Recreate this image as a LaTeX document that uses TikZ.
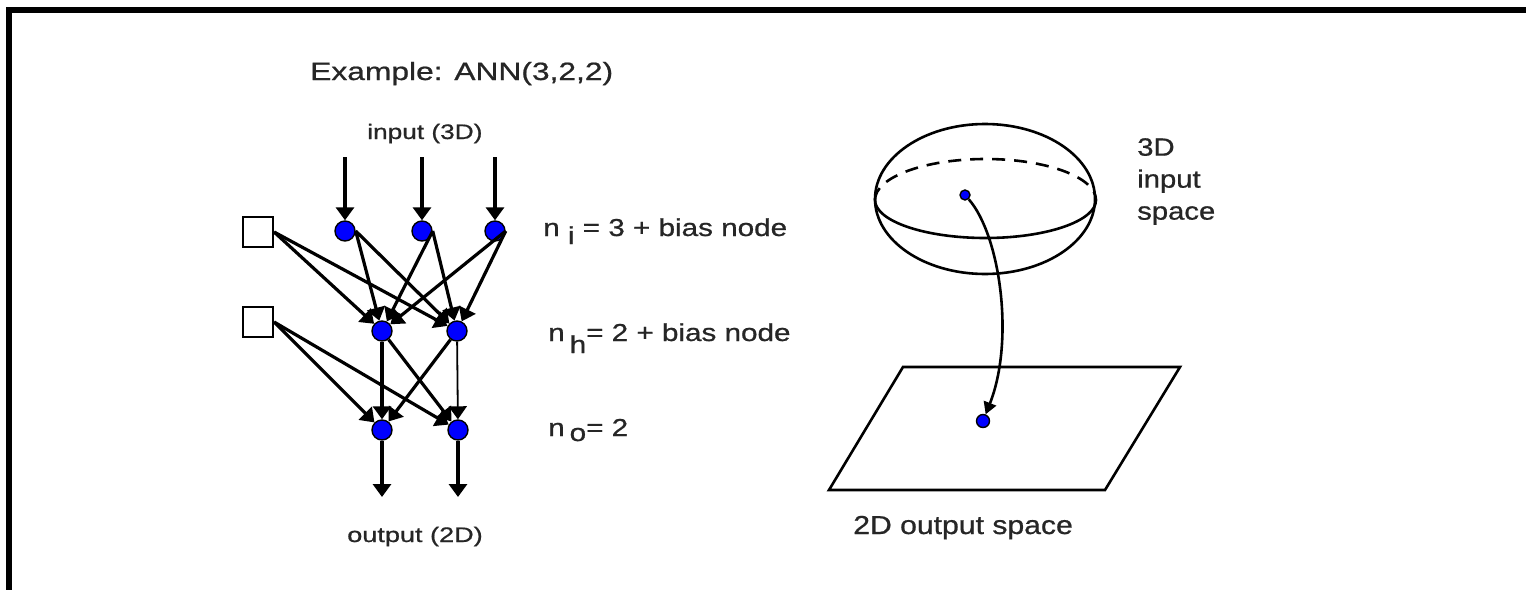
\documentclass[tikz,border=0pt]{standalone}
\usepackage{fontspec}
\setmainfont{Liberation Sans}[FakeBold=0.7]
\usetikzlibrary{arrows.meta}
\begin{document}
\begin{tikzpicture}[x=1pt,y=-1pt,
  neuron/.style={circle, fill=blue, draw=black, line width=1.4pt, minimum size=20pt, inner sep=0pt},
  dot/.style={circle, fill=blue, draw=black, line width=1.4pt, inner sep=0pt},
  biasbox/.style={rectangle, draw=black, fill=white, line width=2.2pt, minimum size=30pt, inner sep=0pt},
  conn/.style={line width=3.2pt, -{Triangle[length=13pt,width=18pt]}},
  lbl/.style={anchor=base west, inner sep=0pt, text=black!85},
  thin/.style={line width=2.6pt}]
\useasboundingbox (0,0) rectangle (1526,589);
\fill[white] (0,0) rectangle (1526,589);
% frame
\draw[line width=6pt] (9,592) -- (9,10) -- (1530,10);

% texts
\node[lbl, font=\fontsize{25}{28}\selectfont, xscale=1.27] (title) at (310,80) {Example: ANN(3,2,2)};
\node[lbl, font=\fontsize{21}{24}\selectfont, xscale=1.25] (inlbl) at (367,139) {input (3D)};
\node[lbl, font=\fontsize{21}{24}\selectfont, xscale=1.29] (outlbl) at (347,542) {output (2D)};
\node[lbl, font=\fontsize{24.5}{28}\selectfont, xscale=1.21] (ni) at (543,236) {n \raisebox{-8pt}{i} = 3 + bias node};
\node[lbl, font=\fontsize{24.5}{28}\selectfont, xscale=1.21] (nh) at (548,341) {n\,\raisebox{-12pt}{h}= 2 + bias node};
\node[lbl, font=\fontsize{24.5}{28}\selectfont, xscale=1.21] (no) at (548,436) {n\,\raisebox{-5pt}{o}= 2};
\node[lbl, font=\fontsize{25}{32}\selectfont, xscale=1.17, align=left, anchor=north west] (inspace) at (1137,138) {3D\\input\\space};
\node[lbl, font=\fontsize{26}{28}\selectfont, xscale=1.16] (outspace) at (853,534) {2D output space};

% network nodes
\node[neuron] (i1) at (345,231) {};
\node[neuron] (i2) at (422,231) {};
\node[neuron] (i3) at (495,231) {};
\node[neuron] (h1) at (382,331) {};
\node[neuron] (h2) at (457,331) {};
\node[neuron] (o1) at (382,430) {};
\node[neuron] (o2) at (458,430) {};
\node[biasbox] (b1) at (258,232) {};
\node[biasbox] (b2) at (258,322) {};
\coordinate (x1) at (345,157);
\coordinate (x2) at (422,157);
\coordinate (x3) at (495,157);
\coordinate (y1) at (382,497);
\coordinate (y2) at (458,497);

\draw[conn] (x1) -- (i1);
\draw[conn] (x2) -- (i2);
\draw[conn] (x3) -- (i3);
\foreach \s in {b1,i1,i2,i3} {
  \draw[conn] (\s.east |- \s) -- (h1);
  \draw[conn] (\s.east |- \s) -- (h2);
}
\draw[conn] (b2.east) -- (o1);
\draw[conn] (b2.east) -- (o2);
\draw[conn] (h1) -- (o1);
\draw[conn] (h1) -- (o2);
\draw[conn] (h2) -- (o1);
\draw[conn, line width=1.8pt] (h2) -- (o2);
\draw[conn] (o1) -- (y1);
\draw[conn] (o2) -- (y2);

% input space (ellipsoid)
\draw[thin] (985,199) ellipse [x radius=110, y radius=75];
\draw[thin] (875,200) arc[start angle=180, end angle=0, x radius=110.5, y radius=38];
\draw[thin, dash pattern=on 13pt off 9pt] (875,200) arc[start angle=180, end angle=360, x radius=110.5, y radius=41];
% output plane
\draw[thin] (903,367) -- (1180,367) -- (1105,490) -- (829,490) -- cycle;
\node[dot, minimum size=10pt] (p3) at (965,195) {};
\node[dot, minimum size=13pt] (p2) at (983,421) {};
\draw[thin, -{Triangle[length=12pt,width=13pt]}] (p3) .. controls (1000,235) and (1015,340) .. (p2);
\end{tikzpicture}
\end{document}
